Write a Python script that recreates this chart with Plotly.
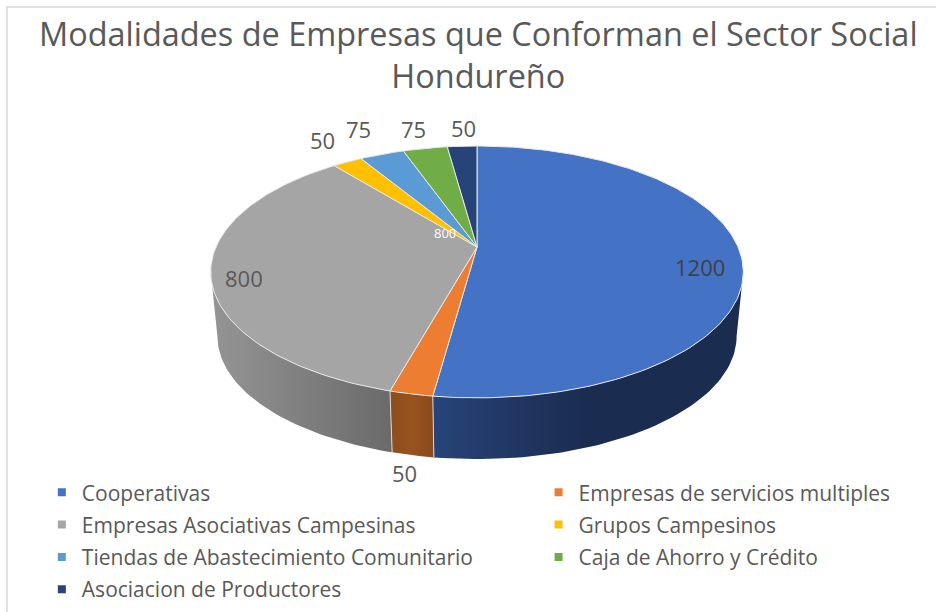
import numpy as np
import plotly.graph_objects as go

TITLE = "Modalidades de Empresas que Conforman el Sector Social<br>Hondureño"
CATEGORIES = ["Cooperativas", "Empresas de servicios multiples", "Empresas Asociativas Campesinas",
              "Grupos Campesinos", "Tiendas de Abastecimiento Comunitario", "Caja de Ahorro y Crédito",
              "Asociacion de Productores"]
VALUES = [1200, 50, 800, 50, 75, 75, 50]
COLORS = ["#4472C4", "#ED7D31", "#A5A5A5", "#FFC000", "#5B9BD5", "#70AD47", "#264478"]
# side wall shading, left to right across each visible wall
SIDE_SHADES = {
    0: [[0, "#27457A"], [0.25, "#213663"], [0.5, "#1A2C50"], [1, "#1A2C50"]],
    1: [[0, "#8E4C1C"], [0.5, "#97521F"], [1, "#8A4A1C"]],
    2: [[0, "#959595"], [1, "#6A6A6A"]],
}
LABEL_PIX = [(700, 267), (404, 473), (244, 278), (322, 140), (358, 129), (413, 129), (463, 128)]

CX, CY, A, B, K = 477.0, 247.0, 261.0, 121.0, 0.198
S, YB = 0.975, 312.0


def top(t):
    u, v = np.sin(t), np.cos(t)
    w = 1 + K * v
    return CX + A * u / w, CY - B * v / w


def bottom(t):
    u, v = np.sin(t), np.cos(t)
    w = 1 + K * v
    return CX + S * A * u / w, YB - S * B * v / w


total = sum(VALUES)
edges = np.concatenate([[0], np.cumsum(VALUES)]) / total * 2 * np.pi
VIS0 = np.arccos(-K)
VIS1 = 2 * np.pi - VIS0

fig = go.Figure()

# side walls
for i, scale in SIDE_SHADES.items():
    a0, a1 = max(edges[i], VIS0), min(edges[i + 1], VIS1)
    t = np.linspace(a0, a1, 60)
    x1, y1 = top(t)
    x2, y2 = bottom(t)
    fig.add_trace(go.Scatter(x=np.r_[x1, x2[::-1]], y=np.r_[y1, y2[::-1]], mode="lines", fill="toself",
                             fillgradient=dict(type="horizontal", colorscale=scale),
                             line=dict(width=0), showlegend=False, hoverinfo="skip"))
# slice separators on the wall
for t in edges:
    if VIS0 < t < VIS1:
        x1, y1 = top(t)
        x2, y2 = bottom(t)
        fig.add_trace(go.Scatter(x=[x1, x2], y=[y1, y2], mode="lines",
                                 line=dict(color="#D9D9D9", width=1), showlegend=False, hoverinfo="skip"))

# top face
for i, (name, col) in enumerate(zip(CATEGORIES, COLORS)):
    t = np.linspace(edges[i], edges[i + 1], max(4, int((edges[i + 1] - edges[i]) / 0.02)))
    x, y = top(t)
    fig.add_trace(go.Scatter(x=np.r_[CX, x, CX], y=np.r_[CY, y, CY], mode="lines", fill="toself",
                             fillcolor=col, line=dict(color="#E8E8E8", width=1), name=name,
                             showlegend=False, hovertemplate=name + ": %{text}<extra></extra>",
                             text=[VALUES[i]] * (len(t) + 2)))

# legend entries: two columns, filled row by row
for i, (name, col) in enumerate(zip(CATEGORIES, COLORS)):
    fig.add_trace(go.Scatter(x=[None], y=[None], mode="markers", name=name, legendgroup=name,
                             legend="legend" if i % 2 == 0 else "legend2",
                             marker=dict(symbol="square", size=8, color=col)))

# data labels
for (lx, ly), v in zip(LABEL_PIX, VALUES):
    fig.add_annotation(x=lx, y=ly, text=str(v), showarrow=False, xref="x", yref="y",
                       font=dict(size=22, color="#404040" if v == 1200 else "#595959", family="Open Sans"))
fig.add_annotation(x=445, y=233, text=str(VALUES[2]), showarrow=False, xref="x", yref="y",
                   font=dict(size=13, color="#FFFFFF", family="Open Sans"))

# chart frame
fig.add_shape(type="rect", x0=7, y0=7, x1=960, y1=640, line=dict(color="#D9D9D9", width=1.5), layer="below")

legend_style = dict(orientation="v", yanchor="top", xanchor="left", itemwidth=30, tracegroupgap=2,
                    font=dict(size=21, color="#595959", family="Open Sans"), bgcolor="rgba(0,0,0,0)")
fig.update_layout(
    width=936, height=612, margin=dict(l=0, r=0, t=0, b=0),
    paper_bgcolor="white", plot_bgcolor="white",
    xaxis=dict(range=[0, 936], visible=False, fixedrange=True),
    yaxis=dict(range=[612, 0], visible=False, fixedrange=True),
    title=dict(text=TITLE, x=0.511, xanchor="center", y=0.925, yanchor="top",
               font=dict(size=32.45, color="#595959", family="Open Sans")),
    legend=dict(x=0.0447, y=0.2285, **legend_style),
    legend2=dict(x=0.5754, y=0.2285, **legend_style),
)
fig.write_html("out.html", config={"displayModeBar": False},
               post_script="document.body.style.margin='0';document.documentElement.style.overflow='hidden';")
